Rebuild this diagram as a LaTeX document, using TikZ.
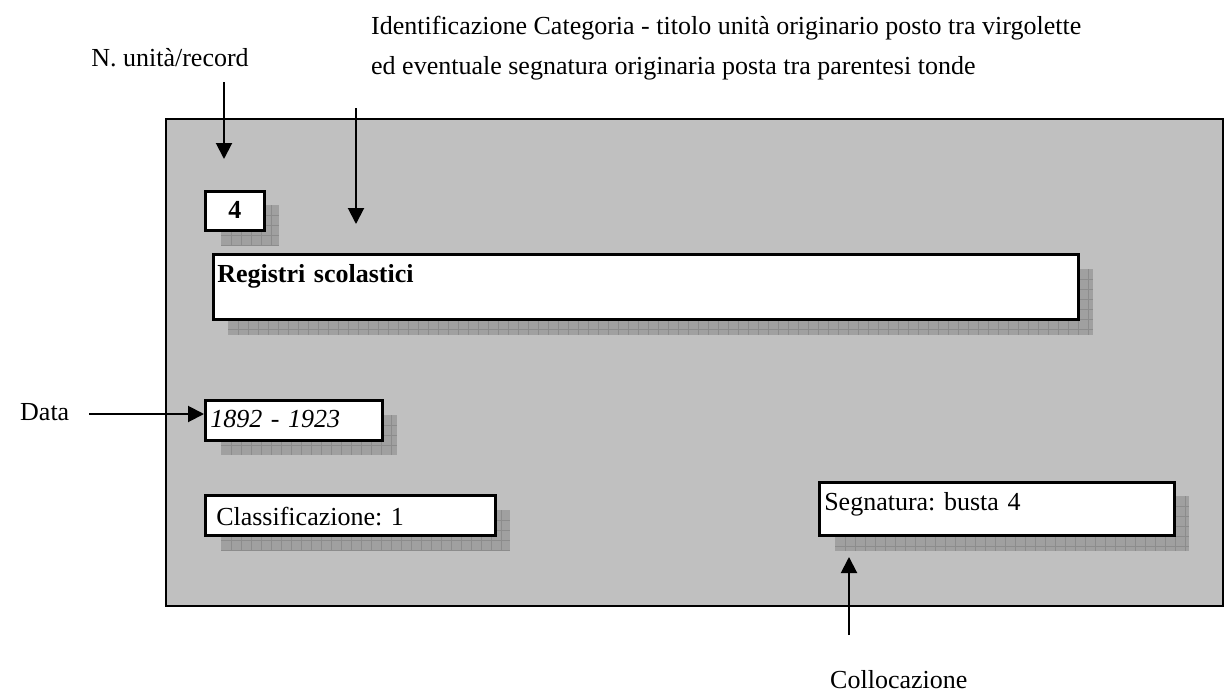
\documentclass[tikz,border=0pt]{standalone}
\usepackage{fontspec}
\setmainfont{Liberation Serif}
\usetikzlibrary{arrows.meta}
\frenchspacing
\definecolor{panelgray}{HTML}{C0C0C0}
\definecolor{shadowgray}{HTML}{A0A0A0}
\definecolor{shadowgrid}{HTML}{8C8C8C}
\newcommand\myshadow[4]{%
  \begin{scope}
    \fill[fill=shadowgray] (#1,#2) rectangle (#3,#4);
    \pgfmathtruncatemacro\mynx{(#3-#1-1)/10}
    \pgfmathtruncatemacro\myny{(#4-#2-1)/10}
    \foreach \i in {1,...,\mynx} {\draw[draw=shadowgrid, line width=0.9pt] (#1+10*\i,#2) -- (#1+10*\i,#4);}
    \foreach \j in {1,...,\myny} {\draw[draw=shadowgrid, line width=0.9pt] (#1,#2+10*\j) -- (#3,#2+10*\j);}
  \end{scope}}
\begin{document}
\begin{tikzpicture}[x=1pt,y=-1pt,
  txt/.style={font=\fontsize{26}{30}\selectfont, inner sep=0pt},
  field/.style={draw=black, fill=white, line width=2.5pt, anchor=north west,
    font=\fontsize{26}{30}\selectfont, inner ysep=0pt, align=left},
  pointer/.style={line width=2pt, -{Triangle[length=16pt,width=16pt]}}]
\useasboundingbox (0,0) rectangle (1224,699);
\fill[fill=panelgray, draw=black, line width=2pt] (166,119) rectangle (1223,606);

% shadows
\myshadow{221}{205}{279}{246}
\myshadow{228}{269}{1093}{335}
\myshadow{221}{415}{397}{455}
\myshadow{221}{510}{510}{551}
\myshadow{835}{496}{1189}{551}

% fields
\node[field, inner xsep=0pt, text width=59pt, align=center, text height=27pt, text depth=12pt] (num) at (204,190) {\textbf{4}};
\node[field, inner xsep=4pt, text width=857pt, text height=28pt, text depth=37pt] (title) at (212,253) {\textbf{Registri scolastici}};
\node[field, inner xsep=5pt, text width=167pt, text height=27pt, text depth=13pt] (date) at (204,399) {\textit{1892 - 1923}};
\node[field, inner xsep=11pt, text width=268pt, text height=30pt, text depth=10pt] (class) at (204,494) {Classificazione: 1};
\node[field, inner xsep=5pt, text width=345pt, text height=28pt, text depth=25pt] (segn) at (818,481) {Segnatura: busta 4};

% labels
\node[txt, anchor=base] (lnum) at (170,66) {N. unità/record};
\node[txt, anchor=base west] (lid1) at (371,34) {Identificazione Categoria - titolo unità originario posto tra virgolette};
\node[txt, anchor=base west] (lid2) at (371,74) {ed eventuale segnatura originaria posta tra parentesi tonde};
\node[txt, anchor=base west] (ldata) at (20,420) {Data};
\node[txt, anchor=base west] (lcoll) at (830,688) {Collocazione};

% arrows
\coordinate (a1s) at (224,82);  \coordinate (a1e) at (224,159);
\coordinate (a2s) at (356,108); \coordinate (a2e) at (356,224);
\coordinate (a3s) at (89,414);  \coordinate (a3e) at (204,414);
\coordinate (a4s) at (849,635); \coordinate (a4e) at (849,557);
\draw[pointer] (a1s) -- (a1e);
\draw[pointer] (a2s) -- (a2e);
\draw[pointer] (a3s) -- (a3e);
\draw[pointer] (a4s) -- (a4e);
\end{tikzpicture}
\end{document}
